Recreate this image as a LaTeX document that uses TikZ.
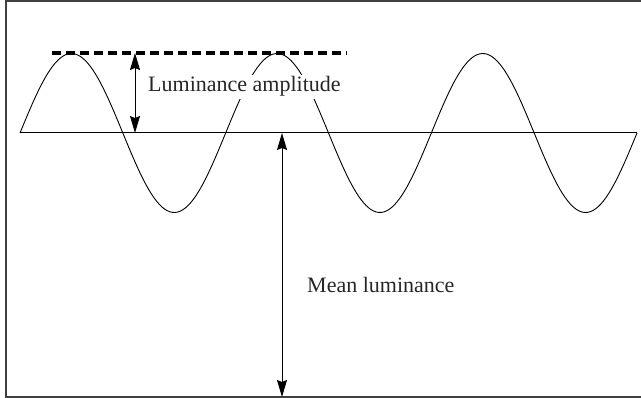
\documentclass[tikz,border=0pt]{standalone}
\usepackage{fontspec}
\setmainfont{Liberation Serif}
\usepackage{tikz}
\usetikzlibrary{arrows.meta}
\tikzset{
  frame/.style={draw=black!75, line width=1.5pt},
  wave/.style={draw=black, line width=0.9pt},
  meanline/.style={draw=black, line width=1pt},
  peakline/.style={draw=black, line width=3.2pt, dash pattern=on 9pt off 5pt},
  dimarrow/.style={{Stealth[length=17pt,width=10pt,inset=2pt]}-{Stealth[length=17pt,width=10pt,inset=2pt]},
                   line width=1pt, draw=black},
  label/.style={font=\fontsize{22}{26}\selectfont, text=black!85,
                inner sep=2pt, fill=white, anchor=base west},
}

\begin{document}
\begin{tikzpicture}[x=1pt, y=-1pt]
  \useasboundingbox (0,0) rectangle (641,398);
  % frame (right side runs off the page)
  \draw[frame] (643,1) -- (6,1) -- (6,397) -- (643,397);

  \coordinate (wstart) at (20,133);
  \coordinate (wend) at (637,133);
  \draw[meanline] (wstart) -- (wend);
  % three periods between the two ends
  \draw[wave] plot[domain=20:637, samples=240, smooth]
    (\x, {133 - 79.5*sin(1.75038*(\x-20))});

  \coordinate (dstart) at (52,53);
  \coordinate (dend) at (347,53);
  \draw[peakline] (dstart) -- (dend);

  \node[label] (amp) at (146,92) {Luminance amplitude};
  \node[label, fill=none] (mean) at (305,293) {Mean luminance};

  \coordinate (amptop) at (135,53);
  \coordinate (ampbot) at (135,133);
  \coordinate (meantop) at (282,133);
  \coordinate (meanbot) at (282,397);
  \draw[dimarrow] (amptop) -- (ampbot);
  \draw[dimarrow] (meantop) -- (meanbot);
\end{tikzpicture}
\end{document}
